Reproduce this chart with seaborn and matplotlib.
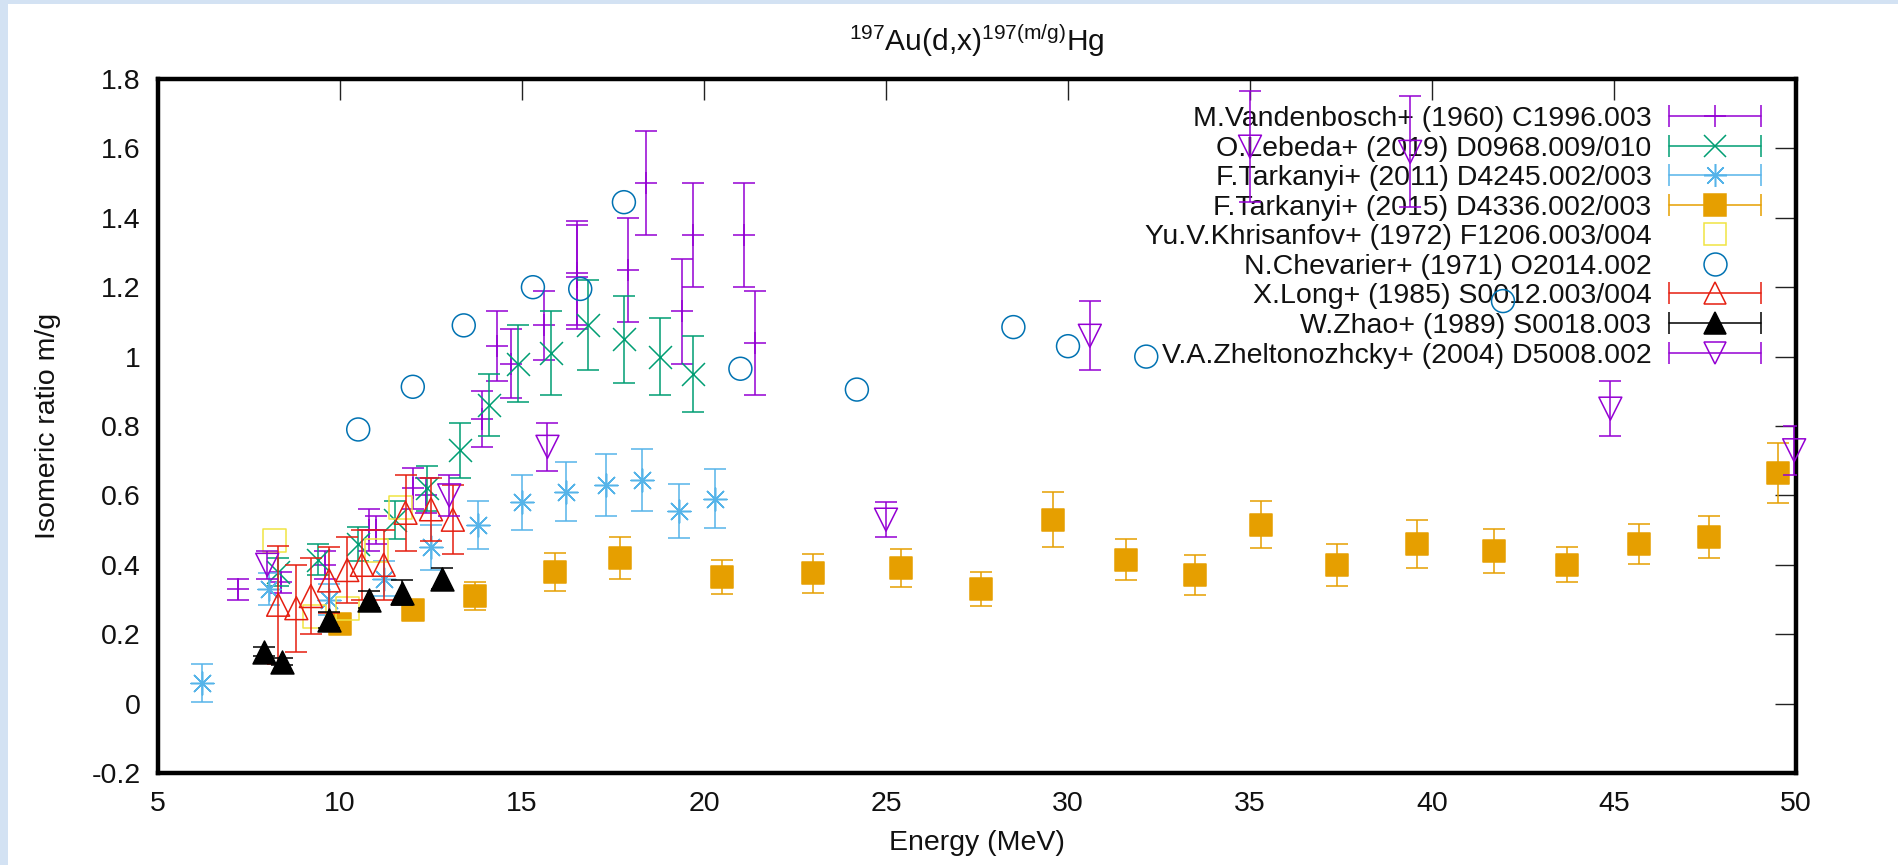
import numpy as np
import matplotlib
matplotlib.use("Agg")
import matplotlib.pyplot as plt
import seaborn as sns
from matplotlib.lines import Line2D
from matplotlib.legend_handler import HandlerLine2D
from matplotlib.patches import Rectangle

# ---------------- data ----------------
vand_E = [7.2, 8.37, 9.6, 10.8, 11.0, 12.0, 12.35, 13.9, 14.3, 14.7, 15.6, 16.5, 16.5, 17.9, 18.4, 19.4, 19.7, 21.1, 21.4]
vand_R = [0.33, 0.35, 0.40, 0.50, 0.50, 0.62, 0.60, 0.82, 1.03, 0.98, 1.09, 1.24, 1.23, 1.25, 1.50, 1.13, 1.35, 1.35, 1.04]
vand_D = [0.03, 0.03, 0.04, 0.06, 0.04, 0.06, 0.05, 0.08, 0.10, 0.10, 0.10, 0.15, 0.15, 0.15, 0.15, 0.15, 0.15, 0.15, 0.15]

leb_E = [8.3, 9.4, 10.5, 11.5, 12.4, 13.3, 14.1, 14.9, 15.8, 16.8, 17.8, 18.8, 19.7]
leb_R = [0.38, 0.415, 0.46, 0.53, 0.62, 0.73, 0.86, 0.98, 1.01, 1.09, 1.05, 1.00, 0.95]
leb_D = [0.04, 0.045, 0.05, 0.055, 0.065, 0.08, 0.09, 0.11, 0.12, 0.13, 0.125, 0.11, 0.11]

tk11_E = [6.2, 8.05, 9.7, 11.2, 12.5, 13.8, 15.0, 16.2, 17.3, 18.3, 19.3, 20.3]
tk11_R = [0.06, 0.33, 0.30, 0.36, 0.45, 0.515, 0.58, 0.61, 0.63, 0.645, 0.555, 0.59]
tk11_D = [0.055, 0.045, 0.045, 0.05, 0.065, 0.07, 0.08, 0.085, 0.09, 0.09, 0.078, 0.085]

tk15_E = [10.0, 12.0, 13.7, 15.9, 17.7, 20.5, 23.0, 25.4, 27.6, 29.6, 31.6, 33.5, 35.3, 37.4, 39.6, 41.7, 43.7, 45.7, 47.6, 49.5]
tk15_R = [0.23, 0.27, 0.31, 0.38, 0.42, 0.365, 0.375, 0.39, 0.33, 0.53, 0.415, 0.37, 0.515, 0.40, 0.46, 0.44, 0.40, 0.46, 0.48, 0.665]
tk15_D = [0.02, 0.02, 0.04, 0.055, 0.06, 0.05, 0.055, 0.055, 0.05, 0.08, 0.058, 0.058, 0.068, 0.06, 0.068, 0.064, 0.05, 0.057, 0.06, 0.087]

khr_E = [8.2, 9.3, 10.2, 11.0, 11.65]
khr_R = [0.47, 0.25, 0.275, 0.44, 0.565]

chev_E = [10.5, 12.0, 13.4, 15.3, 16.6, 17.8, 21.0, 24.2, 28.5, 30.0, 32.15, 41.95]
chev_R = [0.79, 0.913, 1.09, 1.20, 1.195, 1.445, 0.965, 0.905, 1.085, 1.03, 1.00, 1.16]

long_E = [8.3, 8.8, 9.2, 9.7, 10.2, 10.6, 11.2, 11.8, 12.5, 13.1]
long_R = [0.285, 0.275, 0.31, 0.355, 0.385, 0.40, 0.40, 0.55, 0.56, 0.53]
long_D = [0.17, 0.125, 0.11, 0.095, 0.095, 0.10, 0.10, 0.11, 0.09, 0.10]

zhao_E = [7.9, 8.4, 9.7, 10.8, 11.7, 12.8]
zhao_R = [0.15, 0.12, 0.24, 0.30, 0.32, 0.36]
zhao_D = [0.012, 0.01, 0.023, 0.025, 0.035, 0.03]

zhel_E = [8.0, 13.0, 15.7, 25.0, 30.6, 35.0, 39.4, 44.9, 49.95]
zhel_R = [0.40, 0.60, 0.74, 0.53, 1.06, 1.605, 1.59, 0.85, 0.73]
zhel_D = [0.04, 0.06, 0.07, 0.05, 0.10, 0.16, 0.16, 0.08, 0.07]

labels = [
    "M.Vandenbosch+ (1960) C1996.003",
    "O.Lebeda+ (2019) D0968.009/010",
    "F.Tarkanyi+ (2011) D4245.002/003",
    "F.Tarkanyi+ (2015) D4336.002/003",
    "Yu.V.Khrisanfov+ (1972) F1206.003/004",
    "N.Chevarier+ (1971) O2014.002",
    "X.Long+ (1985) S0012.003/004",
    "W.Zhao+ (1989) S0018.003",
    "V.A.Zheltonozhcky+ (2004) D5008.002",
]
x_ticks = [5, 10, 15, 20, 25, 30, 35, 40, 45, 50]
y_ticks = [-0.2, 0, 0.2, 0.4, 0.6, 0.8, 1.0, 1.2, 1.4, 1.6, 1.8]
y_ticklabels = ["-0.2", "0", "0.2", "0.4", "0.6", "0.8", "1", "1.2", "1.4", "1.6", "1.8"]

# ---------------- style ----------------
sns.set_style("white")
plt.rcParams['font.family'] = ['Liberation Sans', 'DejaVu Sans']
plt.rcParams['mathtext.fontset'] = 'custom'
plt.rcParams['mathtext.rm'] = 'Liberation Sans'
plt.rcParams['mathtext.it'] = 'Liberation Sans:italic'
plt.rcParams['mathtext.bf'] = 'Liberation Sans:bold'
plt.rcParams['axes.unicode_minus'] = False

FS = 20.5
MS = 16.5
LW = 1.1
CAP = 8.2

series = [
    # E, R, D, color, marker, kind
    (vand_E, vand_R, vand_D, '#9400D3', '+', 'line'),
    (leb_E, leb_R, leb_D, '#009E73', 'x', 'line'),
    (tk11_E, tk11_R, tk11_D, '#56B4E9', (8, 2, 0), 'line'),
    (tk15_E, tk15_R, tk15_D, '#E69F00', 's', 'filled'),
    (khr_E, khr_R, None, '#F0E442', 's', 'hollow'),
    (chev_E, chev_R, None, '#0072B2', 'o', 'hollow'),
    (long_E, long_R, long_D, '#E51E10', '^', 'hollow'),
    (zhao_E, zhao_R, zhao_D, '#000000', '^', 'filled'),
    (zhel_E, zhel_R, zhel_D, '#9400D3', 'v', 'hollow'),
]

W, H = 1898, 865
fig = plt.figure(figsize=(W / 100, H / 100), dpi=100)
fig.patch.set_facecolor('white')
fig.patches.append(Rectangle((0, 0), 8 / W, 1, transform=fig.transFigure,
                             facecolor='#d3e2f3', edgecolor='none', zorder=-10))
fig.patches.append(Rectangle((0, 1 - 4 / H), 1, 4 / H, transform=fig.transFigure,
                             facecolor='#d3e2f3', edgecolor='none', zorder=-10))

L, R_, T, B = 158, 1796, 79, 773
ax = fig.add_axes([L / W, 1 - B / H, (R_ - L) / W, (B - T) / H])
ax.set_facecolor('white')

handles = []
hmap = {}
for i, (E, Rv, D, c, m, kind) in enumerate(series):
    z = 2 + 2 * i
    if D is not None:
        ax.errorbar(E, Rv, yerr=D, fmt='none', ecolor=c, elinewidth=LW,
                    capsize=CAP, capthick=LW, zorder=z)
    kw = dict(marker=m, s=MS ** 2, linewidth=LW, zorder=z + 1, clip_on=False, legend=False)
    if kind == 'filled':
        kw.update(color=c, edgecolor=c)
    elif kind == 'hollow':
        kw.update(color=c, facecolor='none', edgecolor=c)
    else:
        kw.update(color=c)
    sns.scatterplot(x=E, y=Rv, ax=ax, **kw)

    mk = Line2D([], [], linestyle='none', marker=m, markersize=MS, markeredgewidth=LW,
                color=c, markeredgecolor=c,
                markerfacecolor=(c if kind == 'filled' else 'none'))
    hmap[mk] = HandlerLine2D(numpoints=1)
    if D is not None:
        bar = Line2D([], [], linestyle='-', linewidth=LW, color=c, marker='|',
                     markersize=MS, markeredgewidth=LW)
        hmap[bar] = HandlerLine2D(numpoints=2)
        handles.append((bar, mk))
    else:
        handles.append(mk)

ax.set_xlim(5, 50)
ax.set_ylim(-0.2, 1.8)
ax.set_xticks(x_ticks)
ax.set_xticklabels([str(v) for v in x_ticks])
ax.set_yticks(y_ticks)
ax.set_yticklabels(y_ticklabels)
ax.tick_params(direction='in', length=15, width=1.0, color='#222222',
               top=True, right=True, labelsize=FS, labelcolor='#111111')
ax.tick_params(axis='x', pad=13)
ax.tick_params(axis='y', pad=12.5)
for sp in ax.spines.values():
    sp.set_linewidth(3.2)
    sp.set_color('black')
    sp.set_visible(True)

ax.set_xlabel("Energy (MeV)", fontsize=FS, color='#111111')
ax.xaxis.set_label_coords(0.5, -0.082)
ax.set_ylabel("Isomeric ratio m/g", fontsize=FS, color='#111111')
ax.yaxis.set_label_coords(-0.0592, 0.5)
ax.set_title(r"$^{\mathrm{197}}$Au(d,x)$^{\mathrm{197(m/g)}}$Hg", fontsize=21.5, pad=20, color='#111111')

leg = ax.legend(handles, labels, handler_map=hmap, loc='upper right',
                bbox_to_anchor=(0.9841, 0.961), frameon=False, markerfirst=False,
                fontsize=FS, handlelength=3.85, handletextpad=0.31, labelspacing=0.125,
                borderpad=0, borderaxespad=0)
leg.set_zorder(1)
for t in leg.get_texts():
    t.set_color('#111111')

fig.savefig("out.png", dpi=100, facecolor=fig.get_facecolor())
